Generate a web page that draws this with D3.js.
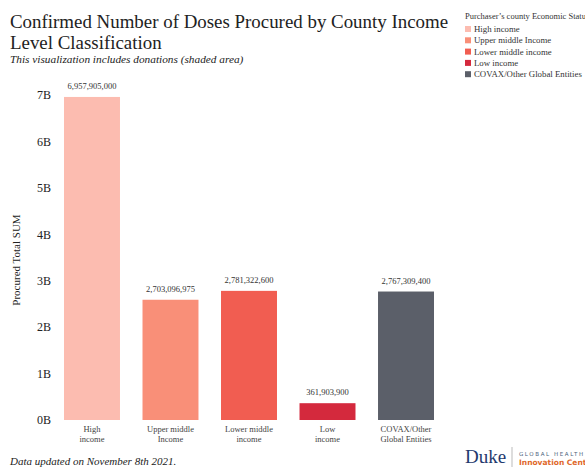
<!DOCTYPE html>
<html><head><meta charset="utf-8">
<script src="https://cdn.jsdelivr.net/npm/d3@7"></script>
<style>body{margin:0;background:#fff;} svg{display:block;font-family:"Liberation Serif",serif;}</style>
</head><body>
<svg id="c" width="585" height="468"></svg>
<script>
const categories = ["High income","Upper middle Income","Lower middle income","Low income","COVAX/Other Global Entities"];
const categoryLines = [["High","income"],["Upper middle","Income"],["Lower middle","income"],["Low","income"],["COVAX/Other","Global Entities"]];
const barValues = [6957905000, 2590000000, 2781322600, 361903900, 2767309400];
const valueLabels = ["6,957,905,000","2,703,096,975","2,781,322,600","361,903,900","2,767,309,400"];
const colors = ["#fcbcb0","#f98f78","#f15d51","#d4293d","#5b5f69"];
const yTicks = [0,1e9,2e9,3e9,4e9,5e9,6e9,7e9];

const svg = d3.select("#c");
const x = d3.scaleBand().domain(categories).range([64,434]).paddingInner(0.287).paddingOuter(0);
const y = d3.scaleLinear().domain([0,7e9]).range([420,95]);

// Title
const t = svg.append("text").attr("x",10).attr("fill","#222").style("font-size","18.9px");
t.append("tspan").attr("x",10).attr("y",28).text("Confirmed Number of Doses Procured by County Income");
t.append("tspan").attr("x",10).attr("y",49).text("Level Classification");
svg.append("text").attr("x",10).attr("y",62.5).style("font-size","11.3px").style("font-style","italic").attr("fill","#222")
  .text("This visualization includes donations (shaded area)");

// y axis
const yAxis = d3.axisLeft(y).tickValues(yTicks).tickSize(0).tickPadding(0).tickFormat(d=>(d/1e9)+"B");
const ga = svg.append("g").attr("transform","translate(51,0)").call(yAxis);
ga.select(".domain").remove();
ga.selectAll("text").style("font-family","Liberation Serif").style("font-size","12px").attr("fill","#222");

svg.append("text").attr("transform","translate(20,260) rotate(-90)").attr("text-anchor","middle")
  .style("font-size","11px").attr("fill","#222").text("Procured Total SUM");

// bars
svg.append("g").selectAll("rect").data(categories).join("rect")
  .attr("x",d=>x(d)).attr("width",x.bandwidth())
  .attr("y",(d,i)=>y(barValues[i])).attr("height",(d,i)=>y(0)-y(barValues[i]))
  .attr("fill",(d,i)=>colors[i]);

svg.append("g").selectAll("text").data(categories).join("text")
  .attr("x",d=>x(d)+x.bandwidth()/2).attr("y",(d,i)=>y(barValues[i])-8)
  .attr("text-anchor","middle").style("font-size","8.5px").attr("fill","#333")
  .text((d,i)=>valueLabels[i]);

// x axis labels
const xl = svg.append("g").selectAll("text").data(categories).join("text")
  .attr("text-anchor","middle").style("font-size","8.5px").attr("fill","#444");
xl.each(function(d,i){
  const s=d3.select(this);
  categoryLines[i].forEach((ln,j)=>s.append("tspan").attr("x",x(d)+x.bandwidth()/2).attr("y",432+j*10).text(ln));
});

// legend
svg.append("text").attr("x",465).attr("y",19).style("font-size","8.5px").attr("fill","#333")
  .text("Purchaser\u2019s county Economic Status");
const lg = svg.append("g").selectAll("g").data(categories).join("g")
  .attr("transform",(d,i)=>`translate(465,${26+i*11.3})`);
lg.append("rect").attr("width",6).attr("height",6).attr("fill",(d,i)=>colors[i]);
lg.append("text").attr("x",9).attr("y",6).style("font-size","8.8px").attr("fill","#333").text(d=>d);

// footer
svg.append("text").attr("x",10).attr("y",465).style("font-size","11px").style("font-style","italic").attr("fill","#222")
  .text("Data updated on November 8th 2021.");

// logo
svg.append("text").attr("x",465).attr("y",463).style("font-size","19px").attr("fill","#1f3a6e").text("Duke");
svg.append("line").attr("x1",512).attr("x2",512).attr("y1",447).attr("y2",467).attr("stroke","#bbb");
svg.append("text").attr("x",519).attr("y",456).style("font-family","DejaVu Sans").style("font-size","5.5px").style("letter-spacing","1.6px").attr("fill","#4a5e7a").text("GLOBAL HEALTH");
svg.append("text").attr("x",519).attr("y",465).style("font-family","DejaVu Sans").style("font-size","7.5px").style("font-weight","bold").attr("fill","#e0682a").text("Innovation Center");
</script></body></html>
